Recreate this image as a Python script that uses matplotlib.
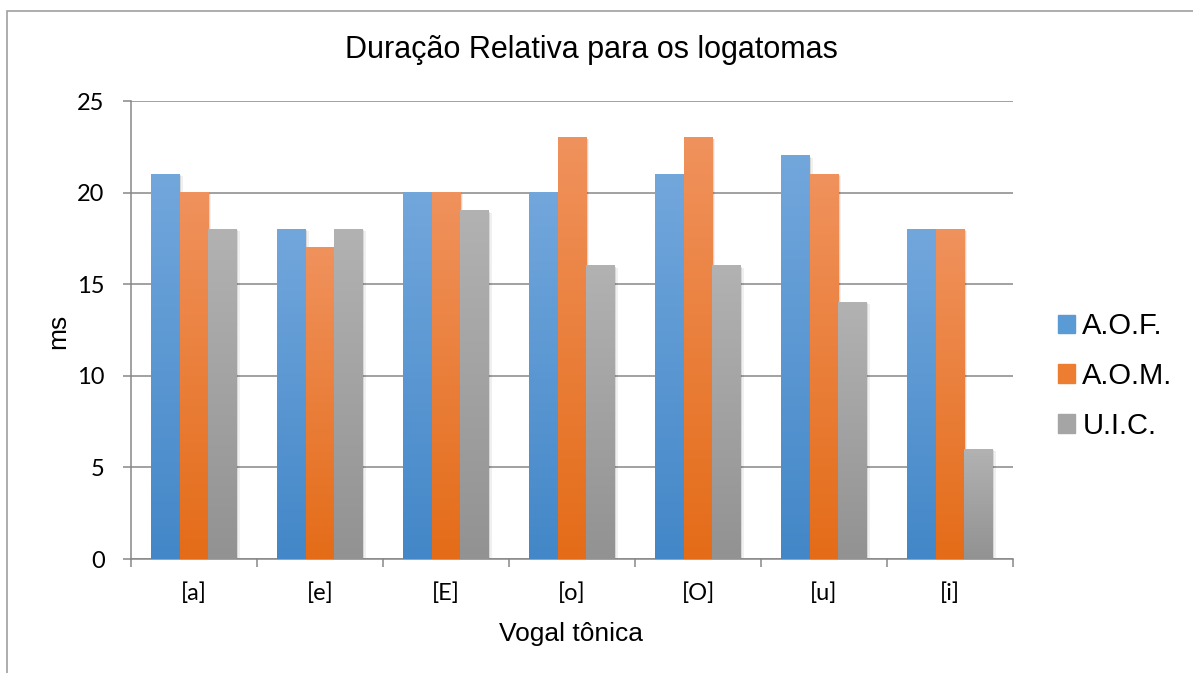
import numpy as np
import matplotlib
matplotlib.use("Agg")
import matplotlib.pyplot as plt
from matplotlib.colors import LinearSegmentedColormap
from matplotlib.patches import Rectangle

# --- data ---
vogais = ["[a]", "[e]", "[E]", "[o]", "[O]", "[u]", "[i]"]
series = ["A.O.F.", "A.O.M.", "U.I.C."]
aof = [21, 18, 20, 20, 21, 22, 18]
aom = [20, 17, 20, 23, 23, 21, 18]
uic = [18, 18, 19, 16, 16, 14, 6]
yticks = [0, 5, 10, 15, 20, 25]

# (bottom, top) gradient colours per series
grads = [("#4387c8", "#72a7dc"), ("#e46c18", "#f0925d"), ("#929292", "#b2b2b2")]
mids = ["#5b9bd5", "#ed7d31", "#a5a5a5"]

plt.rcParams["font.family"] = ["Liberation Sans", "DejaVu Sans"]

W, H = 1193, 673
fig = plt.figure(figsize=(W / 100, H / 100), dpi=100)
ax = fig.add_axes([131 / W, 1 - 559 / H, (1013 - 131) / W, (559 - 101) / H])

# chart border
fig.patches.append(Rectangle((7 / W, -0.05), 1.2, 1 - 11 / H + 0.05,
                             transform=fig.transFigure, fill=False,
                             edgecolor="#a0a0a0", lw=1.2))

x = np.arange(len(vogais))
bw = 0.226
for k, vals in enumerate([aof, aom, uic]):
    cmap = LinearSegmentedColormap.from_list(f"g{k}", list(grads[k]))
    bars = ax.bar(x + (k - 1) * bw, vals, width=bw, color="none", zorder=3)
    for b in bars:
        bx, bh = b.get_x(), b.get_height()
        # soft shadow
        for s, a in [(0.012, 0.10), (0.024, 0.06)]:
            ax.add_patch(Rectangle((bx + s, 0), bw, bh - s * 4, color="black",
                                   alpha=a, lw=0, zorder=2))
        grad = np.linspace(0, 1, 256).reshape(-1, 1)
        ax.imshow(grad, extent=[bx, bx + bw, 0, bh], origin="lower",
                  cmap=cmap, aspect="auto", zorder=3, interpolation="bilinear")

ax.set_xlim(-0.5, len(vogais) - 0.5)
ax.set_ylim(0, 25)
ax.set_yticks(yticks)
ax.yaxis.grid(True, color="#878787", lw=1.1, zorder=0)
ax.set_axisbelow(True)

for s in ["top", "right"]:
    ax.spines[s].set_visible(False)
for s in ["left", "bottom"]:
    ax.spines[s].set_color("#878787")
    ax.spines[s].set_linewidth(1.1)

ax.set_xticks(x)
ax.set_xticklabels(vogais)
ax.set_xticks(np.arange(-0.5, len(vogais)), minor=True)
ax.tick_params(axis="x", which="major", length=0, pad=17)
ax.tick_params(axis="x", which="minor", length=6, color="#878787", width=1.1)
ax.tick_params(axis="y", length=6, color="#878787", width=1.1, pad=13)
for t in ax.get_xticklabels() + ax.get_yticklabels():
    t.set_fontsize(17)
    t.set_family(["Lato", "DejaVu Sans"])

fig.text(591 / W, 1 - 50 / H, "Duração Relativa para os logatomas",
         fontsize=22, ha="center", va="center")
fig.text(571 / W, 1 - 634 / H, "Vogal tônica", fontsize=19, ha="center", va="center")
fig.text(58 / W, 1 - 331 / H, "ms", fontsize=19, rotation=90, ha="center", va="center")

handles = [Rectangle((0, 0), 1, 1, color=c) for c in mids]
fig.legend(handles, series, loc="center left",
           bbox_to_anchor=(1043 / W, 1 - 376 / H), frameon=False,
           fontsize=21, handlelength=0.6, handleheight=0.6,
           handletextpad=0.25, labelspacing=0.75, borderpad=0)

fig.savefig("out.png", dpi=100)
